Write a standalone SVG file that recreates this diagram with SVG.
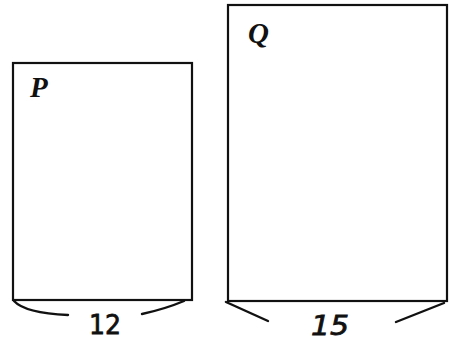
<svg xmlns="http://www.w3.org/2000/svg" width="449" height="344" viewBox="0 0 449 344">
<style>
.box{fill:#fff;stroke:#111;stroke-width:2.2}
.lbl{font-family:"Liberation Serif",serif;font-style:italic;font-weight:bold;font-size:29px;fill:#111}
.hand{font-family:"DejaVu Sans","Liberation Sans",sans-serif;font-size:27px;fill:#111;stroke:#111;stroke-width:0.8}
.br{fill:none;stroke:#111;stroke-width:2.4;stroke-linecap:round}
</style>
<rect width="449" height="344" fill="#fff"/>
<g id="P">
<rect class="box" x="13" y="63" width="179" height="237"/>
<text class="lbl" x="30" y="97">P</text>
</g>
<g id="Q">
<rect class="box" x="228" y="5" width="219" height="296"/>
<text class="lbl" x="248" y="43">Q</text>
</g>
<g id="connectors">
<path class="br" d="M14 301 Q25 313 68 315"/>
<path class="br" d="M142 314 Q165 309 184 301"/>
<path class="br" d="M226 302 L268 321"/>
<path class="br" d="M396 322 L444 303"/>
</g>
<g id="dims">
<text class="hand" x="89" y="334" textLength="32" lengthAdjust="spacingAndGlyphs">12</text>
<text class="hand" x="311" y="335" font-style="italic" textLength="38" lengthAdjust="spacingAndGlyphs">15</text>
</g>
</svg>
